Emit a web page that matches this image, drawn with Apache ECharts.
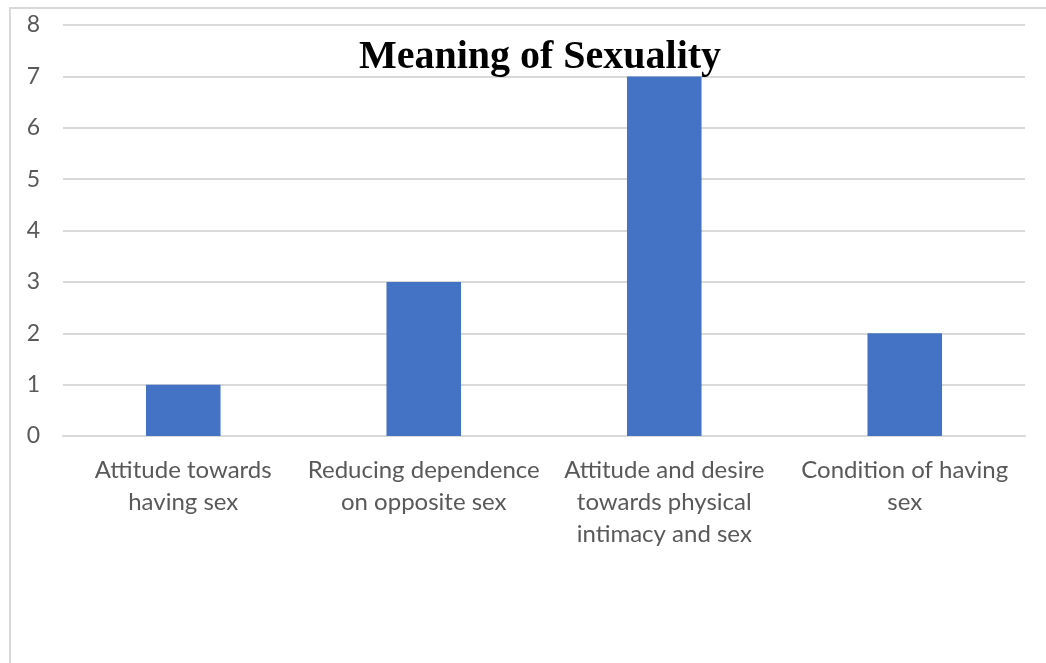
<!DOCTYPE html>
<html><head><meta charset="utf-8">
<script src="https://cdn.jsdelivr.net/npm/echarts@6/dist/echarts.min.js"></script>
<style>html,body{margin:0;padding:0;background:#fff}#c{width:1046px;height:663px}</style>
</head><body><div id="c"></div>
<script>
const categories = ["Attitude towards\nhaving sex","Reducing dependence\non opposite sex","Attitude and desire\ntowards physical\nintimacy and sex","Condition of having\nsex"];
const values = [1, 3, 7, 2];
const titleText = "Meaning of Sexuality";
const chart = echarts.init(document.getElementById('c'));
chart.setOption({
  animation: false,
  title: { text: titleText, left: 535, top: 33, textAlign: 'center',
    textStyle: { fontFamily: 'Liberation Serif', fontWeight: 'bold', fontSize: 40, color: '#000' } },
  graphic: [{ type: 'rect', shape: { x: 10, y: 8, width: 1100, height: 700 },
    style: { fill: 'none', stroke: '#d9d9d9', lineWidth: 2 }, silent: true }],
  grid: { left: 63, right: 21, top: 25, bottom: 227, containLabel: false },
  xAxis: { type: 'category', data: categories,
    axisLine: { lineStyle: { color: '#d9d9d9', width: 2 } }, axisTick: { show: false },
    axisLabel: { interval: 0, color: '#595959', fontFamily: 'Lato', fontSize: 24, lineHeight: 32, margin: 18 } },
  yAxis: { type: 'value', min: 0, max: 8, interval: 1,
    axisLine: { show: false }, axisTick: { show: false },
    splitLine: { lineStyle: { color: '#d9d9d9', width: 2 } },
    axisLabel: { color: '#595959', fontFamily: 'Lato', fontSize: 23, margin: 23 } },
  series: [{ type: 'bar', data: values, barWidth: '31%', itemStyle: { color: '#4472c4' } }]
});
</script></body></html>
